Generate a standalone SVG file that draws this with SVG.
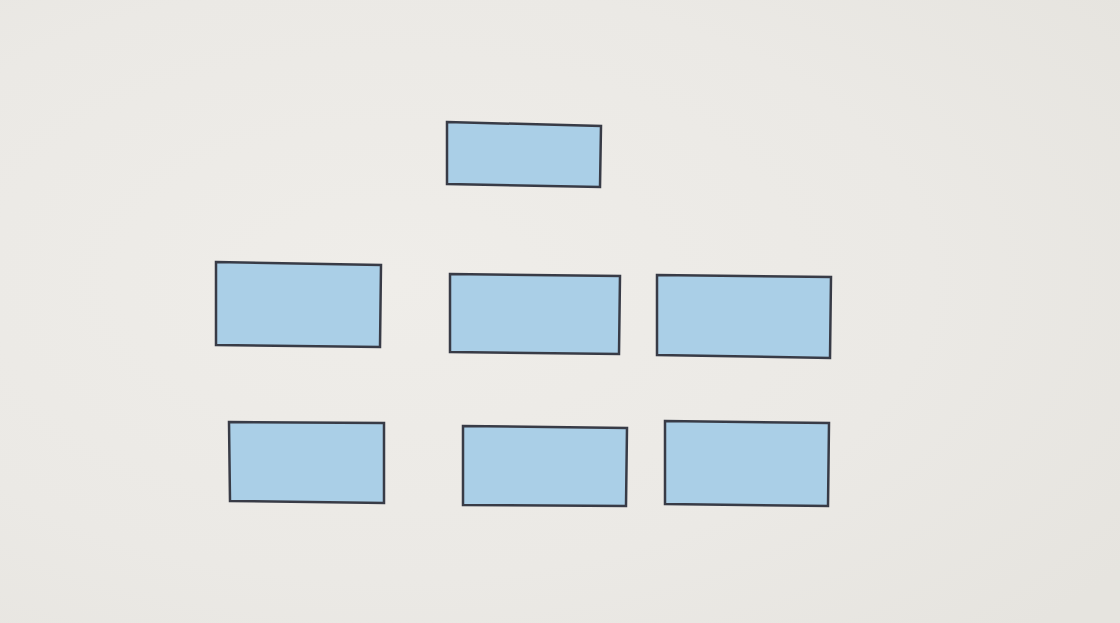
<svg xmlns="http://www.w3.org/2000/svg" width="1120" height="623" viewBox="0 0 1120 623">
<defs>
<radialGradient id="bg" cx="0.35" cy="0.45" r="0.8">
<stop offset="0" stop-color="#efede9"/>
<stop offset="0.6" stop-color="#ebe9e5"/>
<stop offset="1" stop-color="#e6e4df"/>
</radialGradient>
<style>
.box{fill:#aacfe7;stroke:#383b46;stroke-width:2.5;stroke-linejoin:miter}
</style>
</defs>
<rect x="0" y="0" width="1120" height="623" fill="url(#bg)"/>
<g id="node-top"><polygon class="box" points="447,122 601,126 600,187 447,184"/></g>
<g id="node-mid-left"><polygon class="box" points="216,262 381,265 380,347 216,345"/></g>
<g id="node-mid-center"><polygon class="box" points="450,274 620,276 619,354 450,352"/></g>
<g id="node-mid-right"><polygon class="box" points="657,275 831,277 830,358 657,355"/></g>
<g id="node-bot-left"><polygon class="box" points="229,422 384,423 384,503 230,501"/></g>
<g id="node-bot-center"><polygon class="box" points="463,426 627,428 626,506 463,505"/></g>
<g id="node-bot-right"><polygon class="box" points="665,421 829,423 828,506 665,504"/></g>
<g id="connectors"></g>
</svg>
